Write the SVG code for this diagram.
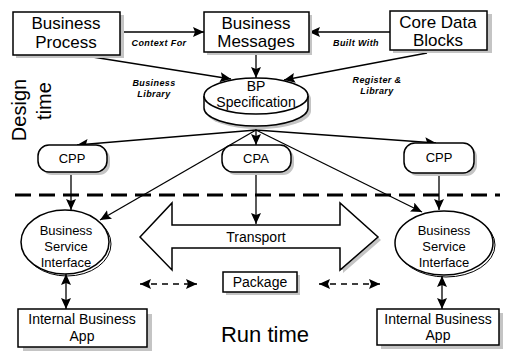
<svg xmlns="http://www.w3.org/2000/svg" width="508" height="351" viewBox="0 0 508 351">
  <style>
    .box { fill: #fff; stroke: #000; stroke-width: 1.5; }
    .shadow { fill: #c4c4c4; stroke: none; }
    .shline { fill: none; stroke: #000; stroke-width: 1; }
    .lbl { font-family: "Liberation Sans", Arial, sans-serif; fill: #000; text-anchor: middle; }
    .big { font-size: 17px; }
    .mid { font-size: 14px; }
    .small { font-size: 13px; }
    .note { font-size: 9px; font-weight: bold; font-style: italic; letter-spacing: 0.4px; }
    .conn { fill: none; stroke: #000; stroke-width: 1.3; }
    .dash { fill: none; stroke: #000; stroke-width: 1.6; stroke-dasharray: 6 5; }
    .sep { fill: none; stroke: #000; stroke-width: 3; stroke-dasharray: 16 8; }
  </style>
  <defs>
    <marker id="ah" markerUnits="userSpaceOnUse" markerWidth="12" markerHeight="10" refX="11" refY="5" orient="auto-start-reverse">
      <path d="M0,0 L11,5 L0,10 L2,5 Z" fill="#000"/>
    </marker>
  </defs>

  <!-- phase labels -->
  <text class="lbl" font-size="20" transform="translate(26,110) rotate(-90)">Design</text>
  <text class="lbl" font-size="20" transform="translate(51,101) rotate(-90)">time</text>
  <text class="lbl" x="265" y="342" font-size="22">Run time</text>

  <!-- phase separator -->
  <line class="sep" x1="15" y1="195" x2="500" y2="195"/>

  <g id="connectors">
    <line class="conn" x1="120" y1="32" x2="204" y2="32" marker-end="url(#ah)"/>
    <line class="conn" x1="390" y1="32" x2="309" y2="32" marker-end="url(#ah)"/>
    <line class="conn" x1="256" y1="52" x2="256" y2="78" marker-end="url(#ah)"/>
    <line class="conn" x1="80" y1="55" x2="231" y2="79" marker-end="url(#ah)"/>
    <line class="conn" x1="427" y1="53" x2="284" y2="80" marker-end="url(#ah)"/>
    <line class="conn" x1="256" y1="130" x2="77" y2="145" marker-end="url(#ah)"/>
    <line class="conn" x1="256" y1="130" x2="436" y2="143" marker-end="url(#ah)"/>
    <line class="conn" x1="256" y1="127" x2="256" y2="145" marker-end="url(#ah)"/>
    <line class="conn" x1="256" y1="130" x2="100" y2="220" marker-end="url(#ah)"/>
    <line class="conn" x1="256" y1="130" x2="422" y2="212" marker-end="url(#ah)"/>
    <line class="conn" x1="71" y1="172" x2="71" y2="210" marker-end="url(#ah)"/>
    <line class="conn" x1="256" y1="172" x2="256" y2="224" marker-end="url(#ah)"/>
    <line class="conn" x1="439" y1="173" x2="439" y2="210" marker-end="url(#ah)"/>
    <line class="conn" x1="66" y1="274" x2="66" y2="309" marker-start="url(#ah)" marker-end="url(#ah)"/>
    <line class="conn" x1="442" y1="276" x2="442" y2="309" marker-start="url(#ah)" marker-end="url(#ah)"/>
    <line class="dash" x1="140" y1="284" x2="197" y2="284" marker-start="url(#ah)" marker-end="url(#ah)"/>
    <line class="dash" x1="319" y1="284" x2="380" y2="284" marker-start="url(#ah)" marker-end="url(#ah)"/>

    <text class="lbl note" x="159" y="46">Context For</text>
    <text class="lbl note" x="356" y="46">Built With</text>
    <text class="lbl note" x="154" y="86">Business</text>
    <text class="lbl note" x="154" y="97">Library</text>
    <text class="lbl note" x="377" y="83">Register &amp;</text>
    <text class="lbl note" x="377" y="94">Library</text>
  </g>

  <g id="business-process">
    <rect class="shadow" x="16" y="15" width="108" height="43"/>
    <rect class="box" x="13" y="12" width="107" height="43"/>
    <text class="lbl big" x="66" y="29">Business</text>
    <text class="lbl big" x="66" y="48">Process</text>
  </g>

  <g id="business-messages">
    <rect class="shadow" x="207" y="15" width="105" height="40"/>
    <rect class="box" x="204" y="12" width="105" height="40"/>
    <text class="lbl big" x="256" y="29">Business</text>
    <text class="lbl big" x="256" y="47">Messages</text>
  </g>

  <g id="core-data-blocks">
    <rect class="shadow" x="393" y="14" width="99" height="39"/>
    <rect class="box" x="390" y="11" width="97" height="39"/>
    <text class="lbl big" x="438" y="28">Core Data</text>
    <text class="lbl big" x="438" y="46">Blocks</text>
  </g>

  <g id="bp-specification">
    <path class="shadow" d="M206,99 L206,111 A52,18 0 0 0 311,111 L311,99 A52,18 0 0 0 206,99 Z"/>
    <path class="box" d="M204,96 L204,108 A52,18 0 0 0 308,108 L308,96"/>
    <ellipse class="box" cx="256" cy="96" rx="52" ry="18"/>
    <text class="lbl mid" x="256" y="91">BP</text>
    <text class="lbl mid" x="256" y="107">Specification</text>
  </g>

  <g id="cpp-left">
    <rect class="shadow" x="41" y="148" width="69" height="27" rx="11"/>
    <rect class="box" x="38" y="145" width="69" height="27" rx="11"/>
    <text class="lbl small" x="72" y="163">CPP</text>
  </g>

  <g id="cpa">
    <rect class="shadow" x="225" y="148" width="69" height="27" rx="11"/>
    <rect class="box" x="222" y="145" width="69" height="27" rx="11"/>
    <text class="lbl small" x="256" y="163">CPA</text>
  </g>

  <g id="cpp-right">
    <rect class="shadow" x="407" y="146" width="70" height="30" rx="11"/>
    <rect class="box" x="404" y="143" width="70" height="30" rx="11"/>
    <text class="lbl small" x="439" y="162">CPP</text>
  </g>

  <g id="transport">
    <polygon class="shadow" points="340,270 378,237 381,240 343,273 343,270"/>
    <polygon class="box" points="140,237 172,203 172,225 340,225 340,203 378,237 340,270 340,248 172,248 172,270"/>
    <text class="lbl mid" x="256" y="242">Transport</text>
  </g>

  <g id="package">
    <rect class="shadow" x="226" y="275" width="74" height="20"/>
    <rect class="box" x="223" y="272" width="74" height="20"/>
    <text class="lbl mid" x="260" y="287">Package</text>
  </g>

  <g id="bsi-left">
    <ellipse class="shline" cx="67" cy="244" rx="44" ry="32"/>
    <ellipse class="box" cx="65" cy="242" rx="44" ry="32"/>
    <text class="lbl small" x="66" y="235">Business</text>
    <text class="lbl small" x="66" y="251">Service</text>
    <text class="lbl small" x="66" y="267">Interface</text>
  </g>

  <g id="bsi-right">
    <ellipse class="shline" cx="446" cy="245" rx="49" ry="32"/>
    <ellipse class="box" cx="444" cy="243" rx="49" ry="32"/>
    <text class="lbl small" x="444" y="235">Business</text>
    <text class="lbl small" x="444" y="251">Service</text>
    <text class="lbl small" x="444" y="267">Interface</text>
  </g>

  <g id="internal-app-left">
    <rect class="shadow" x="23" y="314" width="129" height="37"/>
    <rect class="box" x="18" y="309" width="129" height="38"/>
    <text class="lbl mid" x="82" y="324">Internal Business</text>
    <text class="lbl mid" x="82" y="341">App</text>
  </g>

  <g id="internal-app-right">
    <rect class="shadow" x="381" y="313" width="122" height="36"/>
    <rect class="box" x="377" y="309" width="122" height="36"/>
    <text class="lbl mid" x="438" y="324">Internal Business</text>
    <text class="lbl mid" x="438" y="340">App</text>
  </g>
</svg>
